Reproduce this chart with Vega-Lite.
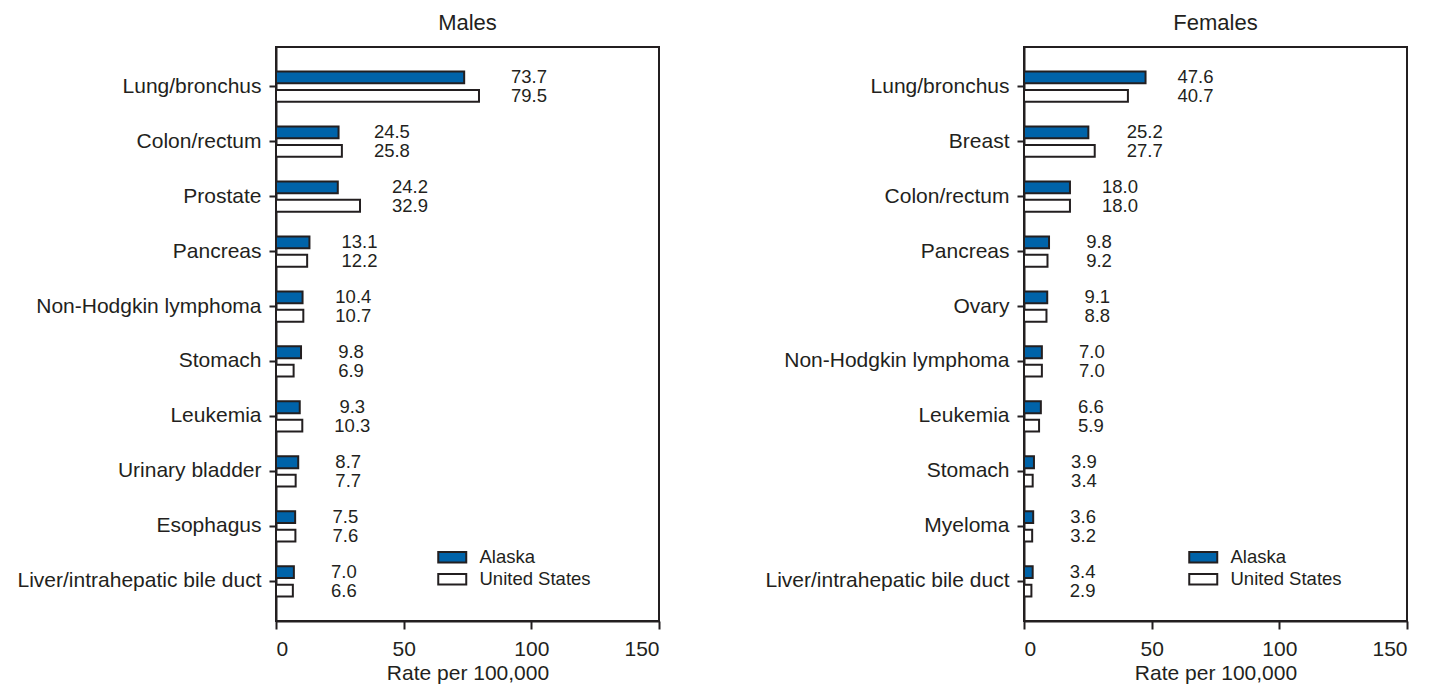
{
  "$schema": "https://vega.github.io/schema/vega-lite/v6.json",
  "padding": {"left": 16, "top": 11, "right": 5, "bottom": 0},
  "background": "white",
  "datasets": {
    "d": [
      {"sex": "Males", "cancer": "Lung/bronchus", "area": "Alaska", "rate": 73.7},
      {"sex": "Males", "cancer": "Lung/bronchus", "area": "United States", "rate": 79.5},
      {"sex": "Males", "cancer": "Colon/rectum", "area": "Alaska", "rate": 24.5},
      {"sex": "Males", "cancer": "Colon/rectum", "area": "United States", "rate": 25.8},
      {"sex": "Males", "cancer": "Prostate", "area": "Alaska", "rate": 24.2},
      {"sex": "Males", "cancer": "Prostate", "area": "United States", "rate": 32.9},
      {"sex": "Males", "cancer": "Pancreas", "area": "Alaska", "rate": 13.1},
      {"sex": "Males", "cancer": "Pancreas", "area": "United States", "rate": 12.2},
      {"sex": "Males", "cancer": "Non-Hodgkin lymphoma", "area": "Alaska", "rate": 10.4},
      {"sex": "Males", "cancer": "Non-Hodgkin lymphoma", "area": "United States", "rate": 10.7},
      {"sex": "Males", "cancer": "Stomach", "area": "Alaska", "rate": 9.8},
      {"sex": "Males", "cancer": "Stomach", "area": "United States", "rate": 6.9},
      {"sex": "Males", "cancer": "Leukemia", "area": "Alaska", "rate": 9.3},
      {"sex": "Males", "cancer": "Leukemia", "area": "United States", "rate": 10.3},
      {"sex": "Males", "cancer": "Urinary bladder", "area": "Alaska", "rate": 8.7},
      {"sex": "Males", "cancer": "Urinary bladder", "area": "United States", "rate": 7.7},
      {"sex": "Males", "cancer": "Esophagus", "area": "Alaska", "rate": 7.5},
      {"sex": "Males", "cancer": "Esophagus", "area": "United States", "rate": 7.6},
      {"sex": "Males", "cancer": "Liver/intrahepatic bile duct", "area": "Alaska", "rate": 7.0},
      {"sex": "Males", "cancer": "Liver/intrahepatic bile duct", "area": "United States", "rate": 6.6},
      {"sex": "Females", "cancer": "Lung/bronchus", "area": "Alaska", "rate": 47.6},
      {"sex": "Females", "cancer": "Lung/bronchus", "area": "United States", "rate": 40.7},
      {"sex": "Females", "cancer": "Breast", "area": "Alaska", "rate": 25.2},
      {"sex": "Females", "cancer": "Breast", "area": "United States", "rate": 27.7},
      {"sex": "Females", "cancer": "Colon/rectum", "area": "Alaska", "rate": 18.0},
      {"sex": "Females", "cancer": "Colon/rectum", "area": "United States", "rate": 18.0},
      {"sex": "Females", "cancer": "Pancreas", "area": "Alaska", "rate": 9.8},
      {"sex": "Females", "cancer": "Pancreas", "area": "United States", "rate": 9.2},
      {"sex": "Females", "cancer": "Ovary", "area": "Alaska", "rate": 9.1},
      {"sex": "Females", "cancer": "Ovary", "area": "United States", "rate": 8.8},
      {"sex": "Females", "cancer": "Non-Hodgkin lymphoma", "area": "Alaska", "rate": 7.0},
      {"sex": "Females", "cancer": "Non-Hodgkin lymphoma", "area": "United States", "rate": 7.0},
      {"sex": "Females", "cancer": "Leukemia", "area": "Alaska", "rate": 6.6},
      {"sex": "Females", "cancer": "Leukemia", "area": "United States", "rate": 5.9},
      {"sex": "Females", "cancer": "Stomach", "area": "Alaska", "rate": 3.9},
      {"sex": "Females", "cancer": "Stomach", "area": "United States", "rate": 3.4},
      {"sex": "Females", "cancer": "Myeloma", "area": "Alaska", "rate": 3.6},
      {"sex": "Females", "cancer": "Myeloma", "area": "United States", "rate": 3.2},
      {"sex": "Females", "cancer": "Liver/intrahepatic bile duct", "area": "Alaska", "rate": 3.4},
      {"sex": "Females", "cancer": "Liver/intrahepatic bile duct", "area": "United States", "rate": 2.9}
    ]
  },
  "spacing": 103,
  "hconcat": [
    {
      "title": "Males",
      "width": 383,
      "height": 574,
      "data": {"name": "d"},
      "transform": [
        {"filter": "datum.sex === 'Males'"},
        {"joinaggregate": [{"op": "max", "field": "rate", "as": "maxrate"}], "groupby": ["cancer"]}
      ],
      "encoding": {
        "y": {"field": "cancer", "type": "nominal", "sort": null, "title": null,
              "scale": {"paddingInner": 0.45, "paddingOuter": 0.445}},
        "yOffset": {"field": "area", "type": "nominal", "sort": ["Alaska", "United States"],
                    "scale": {"paddingInner": 0.36, "paddingOuter": 0}}
      },
      "layer": [
        {
          "mark": {"type": "bar", "stroke": "#231f20", "strokeWidth": 2},
          "encoding": {
            "x": {"field": "rate", "type": "quantitative", "title": "Rate per 100,000",
                  "scale": {"domain": [0, 150], "nice": false},
                  "axis": {"values": [0, 50, 100, 150]}},
            "fill": {"field": "area", "type": "nominal", "title": null,
                     "scale": {"domain": ["Alaska", "United States"], "range": ["#0063a9", "#ffffff"]},
                     "legend": {"orient": "none", "legendX": 167, "legendY": 501}}
          }
        },
        {
          "mark": {"type": "text", "dx": 50, "align": "center", "baseline": "middle", "fontSize": 18.5, "color": "#231f20", "font": "Liberation Sans"},
          "encoding": {
            "x": {"field": "maxrate", "type": "quantitative"},
            "text": {"field": "rate", "type": "quantitative", "format": ".1f"}
          }
        }
      ]
    },
    {
      "title": "Females",
      "width": 383,
      "height": 574,
      "data": {"name": "d"},
      "transform": [
        {"filter": "datum.sex === 'Females'"},
        {"joinaggregate": [{"op": "max", "field": "rate", "as": "maxrate"}], "groupby": ["cancer"]}
      ],
      "encoding": {
        "y": {"field": "cancer", "type": "nominal", "sort": null, "title": null,
              "scale": {"paddingInner": 0.45, "paddingOuter": 0.445}},
        "yOffset": {"field": "area", "type": "nominal", "sort": ["Alaska", "United States"],
                    "scale": {"paddingInner": 0.36, "paddingOuter": 0}}
      },
      "layer": [
        {
          "mark": {"type": "bar", "stroke": "#231f20", "strokeWidth": 2},
          "encoding": {
            "x": {"field": "rate", "type": "quantitative", "title": "Rate per 100,000",
                  "scale": {"domain": [0, 150], "nice": false},
                  "axis": {"values": [0, 50, 100, 150]}},
            "fill": {"field": "area", "type": "nominal", "title": null,
                     "scale": {"domain": ["Alaska", "United States"], "range": ["#0063a9", "#ffffff"]},
                     "legend": {"orient": "none", "legendX": 170, "legendY": 501}}
          }
        },
        {
          "mark": {"type": "text", "dx": 50, "align": "center", "baseline": "middle", "fontSize": 18.5, "color": "#231f20", "font": "Liberation Sans"},
          "encoding": {
            "x": {"field": "maxrate", "type": "quantitative"},
            "text": {"field": "rate", "type": "quantitative", "format": ".1f"}
          }
        }
      ]
    }
  ],
  "resolve": {"scale": {"fill": "independent", "y": "independent", "yOffset": "independent"}, "legend": {"fill": "independent"}},
  "config": {
    "font": "Liberation Sans",
    "view": {"stroke": "#231f20", "strokeWidth": 2},
    "title": {"fontSize": 22, "fontWeight": "normal", "color": "#231f20", "offset": 12, "font": "Liberation Sans"},
    "axis": {
      "grid": false,
      "domainColor": "#231f20", "domainWidth": 2,
      "tickColor": "#231f20", "tickWidth": 2, "tickSize": 8,
      "labelColor": "#231f20", "labelFontSize": 21, "labelFont": "Liberation Sans", "labelLimit": 0,
      "titleColor": "#231f20", "titleFontSize": 21, "titleFontWeight": "normal", "titleFont": "Liberation Sans",
      "labelPadding": 9, "titlePadding": 3
    },
    "axisY": {"labelPadding": 8, "tickSize": 7},
    "legend": {
      "symbolType": "M-2,-0.75H2V0.75H-2Z",
      "symbolSize": 196,
      "symbolStrokeColor": "#231f20",
      "symbolStrokeWidth": 2,
      "labelFontSize": 18.5,
      "labelColor": "#231f20",
      "labelFont": "Liberation Sans",
      "labelOffset": 18,
      "rowPadding": 3,
      "padding": 0
    }
  }
}
